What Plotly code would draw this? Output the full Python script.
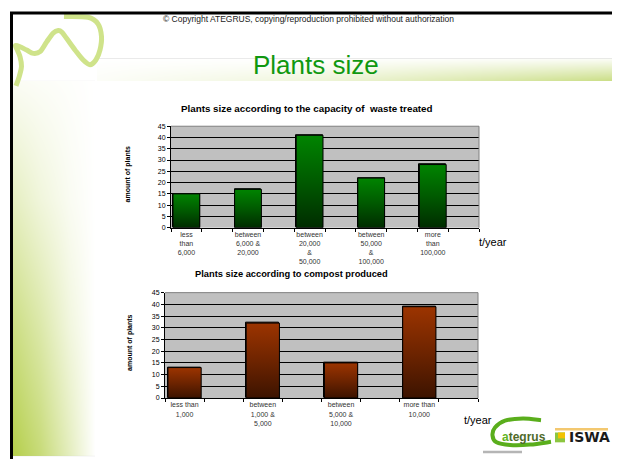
import plotly.graph_objects as go

W, H = 620, 459
OFF = 8  # page body margin in the browser

# ---------------- data ----------------
cap_labels = ["less<br>than<br>6,000", "between<br>6,000 &<br>20,000",
              "between<br>20,000<br>&<br>50,000", "between<br>50,000<br>&<br>100,000",
              "more<br>than<br>100,000"]
cap_values = [15, 17, 41, 22, 28]

comp_labels = ["less than<br>1,000", "between<br>1,000 &<br>5,000",
               "between<br>5,000 &<br>10,000", "more than<br>10,000"]
comp_values = [13, 32, 15, 39]

y_tick_values = [0, 5, 10, 15, 20, 25, 30, 35, 40, 45]

title_main = "Plants size"
copyright_text = "© Copyright ATEGRUS, copying/reproduction prohibited without authorization"
chart1_title = "Plants size according to the capacity of  waste treated"
chart2_title = "Plants size according to compost produced"
y_title = "amount of plants"
unit_text = "t/year"

FONT = "Liberation Sans, Arial, sans-serif"


def px(x):
    return (x - OFF) / W


def py(y):
    return 1 - (y - OFF) / H


fig = go.Figure()

# ---------------- background decorations (heatmap gradients) ----------------
strip_x = [13, 40, 70, 95]
strip_y = [78, 200, 330, 459]
strip_z = [[0.06, 0.04, 0.02, 0.0],
           [0.35, 0.20, 0.07, 0.0],
           [0.70, 0.48, 0.18, 0.0],
           [1.00, 0.75, 0.35, 0.0]]
fig.add_trace(go.Heatmap(x=strip_x, y=strip_y, z=strip_z, zsmooth="best", zmin=0, zmax=1,
                         colorscale=[[0, "#ffffff"], [1, "#b5cf4c"]], showscale=False,
                         hoverinfo="skip", xaxis="x", yaxis="y"))
band_x = [97, 300, 450, 614]
band_y = [55, 66, 78]
band_z = [[0.0, 0.0, 0.02, 0.06],
          [0.03, 0.12, 0.30, 0.50],
          [0.06, 0.28, 0.62, 1.00]]
fig.add_trace(go.Heatmap(x=band_x, y=band_y, z=band_z, zsmooth="best", zmin=0, zmax=1,
                         colorscale=[[0, "#ffffff"], [1, "#c9dd82"]], showscale=False,
                         hoverinfo="skip", xaxis="x2", yaxis="y2"))


# ---------------- bar charts ----------------
def add_bars(values, xa, ya, width, col_mid, scale):
    centers = [2 * i + 0.5 for i in range(len(values))]
    fig.add_trace(go.Bar(x=centers, y=values, width=width,
                         marker=dict(color=col_mid, line=dict(color="black", width=1)),
                         xaxis=xa, yaxis=ya, hoverinfo="skip", showlegend=False))
    for c, v in zip(centers, values):
        x0, x1 = c - width / 2, c + width / 2
        fig.add_trace(go.Scatter(x=[x0, x0, x1, x1, x0], y=[0, v, v, 0, 0], mode="lines",
                                 fill="toself", fillgradient=dict(type="vertical", colorscale=scale),
                                 line=dict(color="black", width=1), xaxis=xa, yaxis=ya,
                                 hoverinfo="skip", showlegend=False))
    return centers


green_scale = [[0, "#002c00"], [0.5, "#005a00"], [1, "#008400"]]
brown_scale = [[0, "#3c1300"], [0.5, "#6e2400"], [1, "#9c3400"]]
c1 = add_bars(cap_values, "x3", "y3", 0.87, "#005a00", green_scale)
c2 = add_bars(comp_values, "x4", "y4", 0.85, "#6e2400", brown_scale)

hidden = dict(visible=False, showgrid=False, zeroline=False, fixedrange=True)


def chart_x(domain, n, centers, labels, anchor):
    return dict(domain=domain, range=[0, 2 * n], anchor=anchor, tickmode="array", tickvals=centers,
                ticktext=labels, ticks="", showline=True, linecolor="black", linewidth=1,
                showgrid=False, zeroline=False, tickfont=dict(size=7, color="#333333", family=FONT),
                minor=dict(tickmode="linear", tick0=0, dtick=1, ticks="outside", ticklen=3,
                           tickcolor="black", tickwidth=1, showgrid=False),
                fixedrange=True)


def chart_y(domain, anchor):
    return dict(domain=domain, range=[0, 45], anchor=anchor, tickmode="array", tickvals=y_tick_values,
                ticks="outside", ticklen=3, tickcolor="black", showline=True, linecolor="black",
                linewidth=1, showgrid=True, gridcolor="black", gridwidth=1, zeroline=False,
                tickfont=dict(size=7, color="black", family=FONT), fixedrange=True)


fig.update_layout(
    width=W, height=H, margin=dict(l=0, r=0, t=0, b=0),
    paper_bgcolor="white", plot_bgcolor="#c0c0c0", showlegend=False, bargap=0,
    xaxis=dict(domain=[px(13), px(95)], range=[13, 95], anchor="y", **hidden),
    yaxis=dict(domain=[py(459), py(78)], range=[459, 78], anchor="x", **hidden),
    xaxis2=dict(domain=[px(97), px(614)], range=[97, 614], anchor="y2", **hidden),
    yaxis2=dict(domain=[py(78), py(55)], range=[78, 55], anchor="x2", **hidden),
    xaxis3=chart_x([px(171), px(479)], len(cap_values), c1, cap_labels, "y3"),
    yaxis3=chart_y([py(227), py(124)], "x3"),
    xaxis4=chart_x([px(165), px(478)], len(comp_values), c2, comp_labels, "y4"),
    yaxis4=chart_y([py(400), py(293)], "x4"),
)

shapes = []
for xa, ya in (("x3", "y3"), ("x4", "y4")):
    shapes.append(dict(type="line", xref=f"{xa} domain", yref=f"{ya} domain", x0=0, x1=1, y0=1, y1=1,
                       line=dict(color="#808080", width=1), layer="above"))
    shapes.append(dict(type="line", xref=f"{xa} domain", yref=f"{ya} domain", x0=1, x1=1, y0=0, y1=1,
                       line=dict(color="#808080", width=1), layer="above"))


def smooth_path(pts):
    P = [(px(x), py(y)) for x, y in pts]
    d = f"M{P[0][0]:.5f},{P[0][1]:.5f}"
    for i in range(len(P) - 1):
        p0 = P[i - 1] if i > 0 else P[i]
        p1, p2 = P[i], P[i + 1]
        p3 = P[i + 2] if i + 2 < len(P) else P[i + 1]
        a = (p1[0] + (p2[0] - p0[0]) / 6, p1[1] + (p2[1] - p0[1]) / 6)
        b = (p2[0] - (p3[0] - p1[0]) / 6, p2[1] - (p3[1] - p1[1]) / 6)
        d += f" C{a[0]:.5f},{a[1]:.5f} {b[0]:.5f},{b[1]:.5f} {p2[0]:.5f},{p2[1]:.5f}"
    return d


squiggle = [(64, 12.5), (88, 13.3), (98, 20), (101.5, 33), (100, 46.5), (96, 56.5), (90, 61.5),
            (83, 56.5), (75, 46.5), (66.7, 35), (61.7, 28.3), (58.3, 26.7), (53.3, 29.3),
            (46.7, 38.3), (40, 48.3), (33.3, 50), (26.7, 46.7), (20, 43.3), (15.5, 42),
            (17, 46), (20, 53.3), (21.5, 63.3), (19.3, 73.3), (16, 83)]
shapes.append(dict(type="path", xref="paper", yref="paper", path=smooth_path(squiggle),
                   line=dict(color="#cfe38a", width=5), layer="above"))

swoosh = [(541, 422.5), (523, 420.7), (505, 423), (495, 430), (492.5, 438), (496.5, 445),
          (510, 447.7), (530, 447.3), (551, 444.5)]
shapes.append(dict(type="path", xref="paper", yref="paper", path=smooth_path(swoosh),
                   line=dict(color="#5aae1c", width=4), layer="above"))
shapes.append(dict(type="rect", xref="paper", yref="paper", x0=px(555), x1=px(565), y0=py(445), y1=py(435),
                   fillcolor="#8cc63f", line=dict(width=0), layer="above"))
shapes.append(dict(type="rect", xref="paper", yref="paper", x0=px(558), x1=px(565), y0=py(441), y1=py(435),
                   fillcolor="#f2c200", line=dict(width=0), layer="above"))
shapes.append(dict(type="rect", xref="paper", yref="paper", x0=px(555), x1=px(608), y0=py(433), y1=py(430.5),
                   fillcolor="#f3c870", line=dict(width=0), layer="above"))
shapes.append(dict(type="rect", xref="paper", yref="paper", x0=px(483), x1=px(522), y0=py(456), y1=py(453.5),
                   fillcolor="#b5b5b5", line=dict(width=0), layer="above"))

shapes.append(dict(type="rect", xref="paper", yref="paper", x0=px(11.5), x1=px(616.5), y0=py(9), y1=py(480),
                   line=dict(color="black", width=3), fillcolor="rgba(0,0,0,0)", layer="above"))
fig.update_layout(shapes=shapes)


def ann(text, x, y, size, color="black", bold=False, angle=0, xanchor="center", family=FONT):
    fig.add_annotation(text=f"<b>{text}</b>" if bold else text, x=px(x), y=py(y), xref="paper", yref="paper",
                       showarrow=False, xanchor=xanchor, yanchor="middle", textangle=angle,
                       font=dict(size=size, color=color, family=family))


ann(copyright_text, 308, 15, 8.5, "#222222")
ann(title_main, 316, 62, 26, "#109810")
ann(chart1_title, 307, 106, 9.8, bold=True)
ann(chart2_title, 291, 274, 9.3, bold=True)
ann(y_title, 128, 173, 7, bold=True, angle=-90)
ann(y_title, 130, 344, 7, bold=True, angle=-90)
ann(unit_text, 477, 242, 11, xanchor="left")
ann(unit_text, 462, 422, 11, xanchor="left")
ann("<span style='color:#62b422'>a</span>tegrus", 524, 440, 12, "#4f6a2a", bold=True)
ann("ISWA", 589, 440, 14, "#1a1a1a", bold=True, family="DejaVu Sans, sans-serif")

fig.write_html("out.html")
